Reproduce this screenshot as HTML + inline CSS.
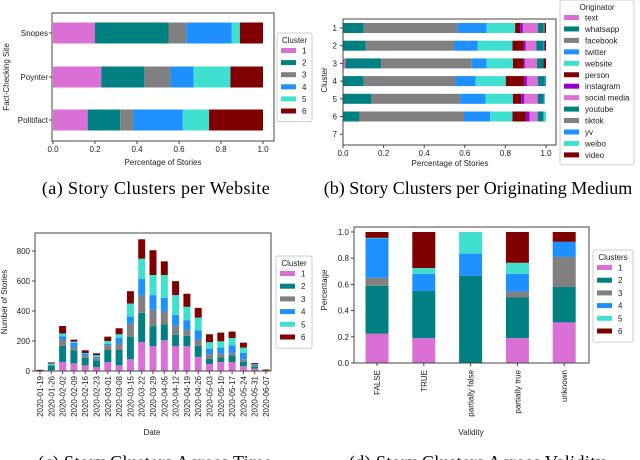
<!DOCTYPE html>
<html><head><meta charset="utf-8"><style>
html,body{margin:0;padding:0;background:#fff;width:640px;height:460px;overflow:hidden}
svg{display:block;font-family:"Liberation Sans",sans-serif}
.cap{font-family:"Liberation Serif",serif;font-size:18px;letter-spacing:0.4px}
.capb{font-family:"Liberation Serif",serif;font-size:18px;letter-spacing:0px}
.t{font-size:8px;fill:#222}
</style></head><body>
<svg id="fig" width="640" height="460" viewBox="0 0 640 460"></svg>
<script>
const clusterColors=["#da70d6","#008080","#808080","#1e90ff","#40e0d0","#800000"];
const clusterLabels=["1","2","3","4","5","6"];
// (a)
const sitesA=["Snopes","Poynter","Politifact"];
const a1=[0.20,0.23,0.165];
const a2=[0.35,0.205,0.155];
const a3=[0.085,0.125,0.063];
const a4=[0.215,0.11,0.235];
const a5=[0.04,0.175,0.125];
const a6=[0.11,0.155,0.257];
const seriesA=[a1,a2,a3,a4,a5,a6];
// (b)
const clustersB=["1","2","3","4","5","6","7"];
const originators=["text","whatsapp","facebook","twitter","website","person","instagram","social media","youtube","tiktok","yv","weibo","video"];
const origColors=["#da70d6","#008080","#808080","#1e90ff","#40e0d0","#800000","#9400d3","#da70d6","#008080","#808080","#1e90ff","#40e0d0","#800000"];
const bText=[0,0,0.012,0,0,0,0];
const bWhatsapp=[0.102,0.112,0.176,0.102,0.14,0.082,0];
const bFacebook=[0.461,0.435,0.446,0.45,0.437,0.514,0];
const bTwitter=[0.145,0.117,0.074,0.102,0.126,0.129,0];
const bWebsite=[0.14,0.171,0.129,0.148,0.134,0.11,0];
const bPerson=[0.025,0.055,0.053,0.091,0.041,0.066,0];
const bInstagram=[0.013,0.01,0.006,0.013,0.015,0.018,0];
const bSocial=[0.074,0.052,0.06,0.054,0.066,0.04,0];
const bYoutube=[0.028,0.033,0.032,0.033,0.029,0.029,0];
const bTiktok=[0.003,0,0,0,0,0,0];
const bYv=[0.002,0.007,0,0.007,0.004,0,0];
const bWeibo=[0,0,0,0,0.003,0.012,0];
const bVideo=[0.007,0.008,0.012,0,0,0,0];
const seriesB=[bText,bWhatsapp,bFacebook,bTwitter,bWebsite,bPerson,bInstagram,bSocial,bYoutube,bTiktok,bYv,bWeibo,bVideo];
// (c)
const dates=["2020-01-19","2020-01-26","2020-02-02","2020-02-09","2020-02-16","2020-02-23","2020-03-01","2020-03-08","2020-03-15","2020-03-22","2020-03-29","2020-04-05","2020-04-12","2020-04-19","2020-04-26","2020-05-03","2020-05-10","2020-05-17","2020-05-24","2020-05-31","2020-06-07"];
const c1=[0,5,60,51,38,25,60,38,78,192,165,205,165,165,94,47,60,60,33,16,2];
const c2=[3,30,107,87,49,46,80,102,151,196,134,107,76,69,75,35,31,40,29,11,2];
const c3=[0,0,40,22,15,14,32,43,85,116,109,85,60,40,38,29,25,18,16,6,0];
const c4=[0,5,25,27,14,9,8,37,49,109,98,91,73,65,63,38,40,54,42,7,0];
const c5=[0,10,18,9,4,11,20,25,87,136,134,152,132,89,86,43,42,48,36,5,0];
const c6=[5,7,50,13,18,13,29,40,82,129,165,91,93,87,65,53,58,43,33,8,6];
const seriesC=[c1,c2,c3,c4,c5,c6];
const yTicksC=[0,200,400,600,800];
// (d)
const validity=["FALSE","TRUE","partially false","partially true","unknown"];
const d1=[0.225,0.19,0,0.19,0.31];
const d2=[0.365,0.36,0.665,0.31,0.27];
const d3=[0.06,0,0,0.045,0.23];
const d4=[0.30,0.13,0.17,0.135,0.115];
const d5=[0.005,0.045,0.165,0.085,0];
const d6=[0.045,0.275,0,0.235,0.075];
const seriesD=[d1,d2,d3,d4,d5,d6];
const fracTicks=[0,0.2,0.4,0.6,0.8,1.0];

const svg=document.getElementById('fig');
const NS="http://www.w3.org/2000/svg";
function mk(tag,at,parent){const e=document.createElementNS(NS,tag);for(const k in at)e.setAttribute(k,at[k]);(parent||svg).appendChild(e);return e;}
function txt(x,y,s,cls,anchor,rot){const e=mk('text',{x:x,y:y,class:cls||'t','text-anchor':anchor||'middle'});if(rot)e.setAttribute('transform','rotate(-90 '+x+' '+y+')');e.textContent=s;return e;}
function frame(x0,y0,x1,y1,name){const r=mk('rect',{x:x0,y:y0,width:x1-x0,height:y1-y0,fill:'none',stroke:'#444','stroke-width':1});}
function legend(x,y,w,title,labels,colors,step,name){
 const g=mk('g',{});
 const h=16+labels.length*step;
 mk('rect',{x:x,y:y,width:w,height:h,fill:'#fff',stroke:'#ccc',rx:2},g);
 const t=mk('text',{x:x+w/2,y:y+10,class:'t','text-anchor':'middle'},g);t.textContent=title;
 labels.forEach((l,i)=>{const yy=y+15+i*step;
  const p=mk('rect',{x:x+4,y:yy,width:15,height:5,fill:colors[i]},g);
  
  const lt=mk('text',{x:x+25,y:yy+5.5,class:'t','text-anchor':'start'},g);lt.textContent=l;
  });
}
function rect(x,y,w,h,c,name){const r=mk('rect',{x:x,y:y,width:Math.max(0,w),height:Math.max(0,h),fill:c});return r;}

// ---------- (a)
{const X0=53,X1=263,xs=v=>X0+v*(X1-X0);const ys=[33,77,120];
 sitesA.forEach((s,i)=>{let acc=0;seriesA.forEach((ser,k)=>{const v=ser[i];const r=rect(xs(acc),ys[i]-10.5,xs(acc+v)-xs(acc),21,clusterColors[k],'bar-a-'+s.toLowerCase()+'-c'+(k+1));acc+=v;});
  txt(48,ys[i]+3,s,'t','end');});
 frame(52,13,274,141,'axes-a');
 fracTicks.forEach(t=>{mk('line',{x1:xs(t),x2:xs(t),y1:141,y2:144,stroke:'#444'});txt(xs(t),152,t.toFixed(1));});
 sitesA.forEach((s,i)=>mk('line',{x1:49,x2:52,y1:ys[i],y2:ys[i],stroke:'#444'}));
 const xl=txt(163,165,'Percentage of Stories');
 const yl=txt(9,77,'Fact-Checking Site','t','middle',true);
 legend(277,33,35,'Cluster',clusterLabels,clusterColors,12.1,'legend-a');
 const c=txt(156,194,'(a) Story Clusters per Website','cap');}

// ---------- (b)
{const X0=343,X1=546,xs=v=>X0+v*(X1-X0);const yb=i=>28+i*17.7;
 clustersB.forEach((c,i)=>{let acc=0;seriesB.forEach((ser,k)=>{const v=ser[i];if(v>0)rect(xs(acc),yb(i)-5,xs(acc+v)-xs(acc),10,origColors[k],'bar-b-c'+c+'-'+originators[k].replace(/ /g,'-'));acc+=v;});
  txt(337,yb(i)+3,c,'t','end');mk('line',{x1:340,x2:343,y1:yb(i),y2:yb(i),stroke:'#444'});});
 frame(343,19,556,145,'axes-b');
 fracTicks.forEach(t=>{mk('line',{x1:xs(t),x2:xs(t),y1:145,y2:148,stroke:'#444'});txt(xs(t),156,t.toFixed(1));});
 const xl=txt(450,166,'Percentage of Stories');
 const yl=txt(327,80,'Cluster','t','middle',true);
 legend(560,0,74,'Originator',originators,origColors,11.45,'legend-b');
 const c=txt(478,194,'(b) Story Clusters per Originating Medium','capb');}

// ---------- (c)
{const Y0=371,ymax=920,TOP=233,ysc=v=>Y0-v/ymax*(Y0-TOP);const xc=i=>40+i*11.3;
 dates.forEach((d,i)=>{let acc=0;seriesC.forEach((ser,k)=>{const v=ser[i];if(v>0)rect(xc(i)-3.5,ysc(acc+v),7,ysc(acc)-ysc(acc+v),clusterColors[k],'bar-c-'+d+'-c'+(k+1));acc+=v;});
  mk('line',{x1:xc(i),x2:xc(i),y1:371,y2:374,stroke:'#444'});
  const t=txt(xc(i)+3,376,d,'t','end');t.setAttribute('transform','rotate(-90 '+(xc(i)+3)+' 376)');});
 frame(35,233,271,371,'axes-c');
 yTicksC.forEach(t=>{mk('line',{x1:32,x2:35,y1:ysc(t),y2:ysc(t),stroke:'#444'});txt(30,ysc(t)+3,String(t),'t','end');});
 const xl=txt(152,435,'Date');
 const yl=txt(7,302,'Number of Stories','t','middle',true);
 legend(276,256,36,'Cluster',clusterLabels,clusterColors,12.7,'legend-c');
 const c=txt(155,468,'(c) Story Clusters Across Time','cap');}

// ---------- (d)
{const Y0=363,TOP=232,ysc=v=>Y0-v*(Y0-TOP);const xc=i=>377+i*46.8;
 validity.forEach((vname,i)=>{let acc=0;seriesD.forEach((ser,k)=>{const v=ser[i];if(v>0)rect(xc(i)-11.5,ysc(acc+v),23,ysc(acc)-ysc(acc+v),clusterColors[k],'bar-d-'+vname.replace(/ /g,'-')+'-c'+(k+1));acc+=v;});
  mk('line',{x1:xc(i),x2:xc(i),y1:363,y2:366,stroke:'#444'});
  const t=txt(xc(i)+3,370,vname,'t','end');t.setAttribute('transform','rotate(-90 '+(xc(i)+3)+' 370)');});
 frame(354,227,589,363,'axes-d');
 fracTicks.forEach(t=>{mk('line',{x1:351,x2:354,y1:ysc(t),y2:ysc(t),stroke:'#444'});txt(349,ysc(t)+3,t.toFixed(1),'t','end');});
 const xl=txt(471,435,'Validity');
 const yl=txt(327,290,'Percentage','t','middle',true);
 legend(593,250,40,'Clusters',clusterLabels,clusterColors,12.7,'legend-d');
 const c=txt(477,468,'(d) Story Clusters Across Validity','cap');}
</script>
</body></html>
